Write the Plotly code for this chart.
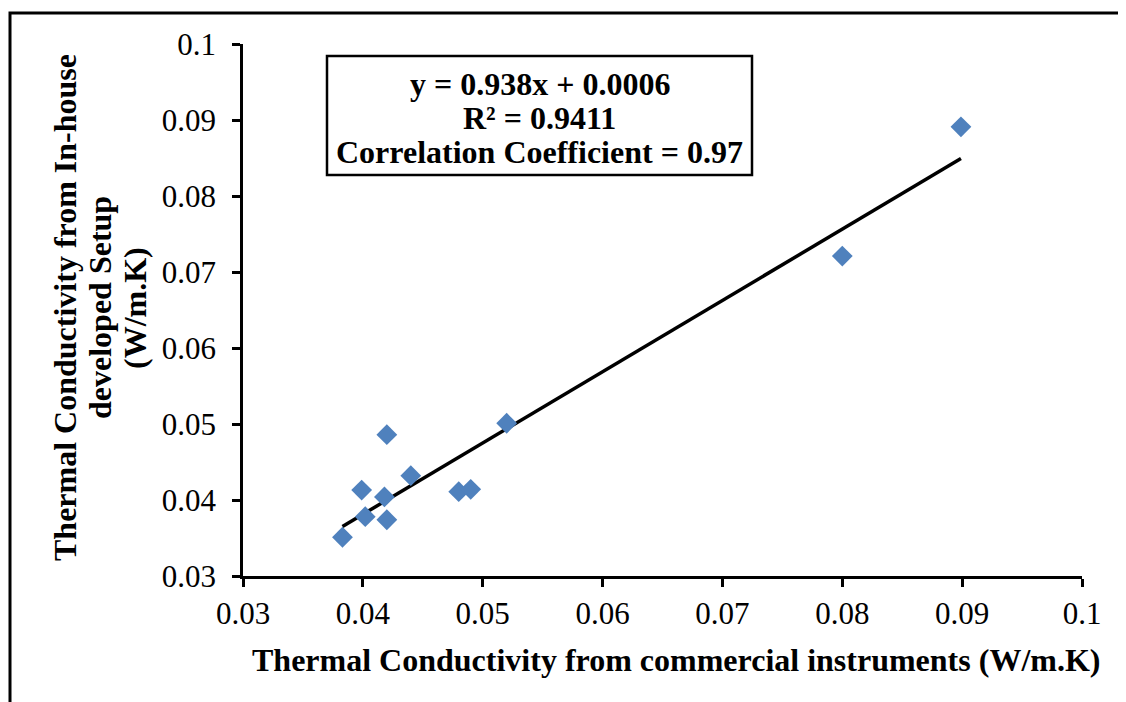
import plotly.graph_objects as go

# Data
commercial = [0.0383, 0.0399, 0.0402, 0.0418, 0.0420, 0.0420, 0.0440, 0.0480, 0.0490, 0.0520, 0.0800, 0.0899]
inhouse    = [0.0351, 0.0413, 0.0378, 0.0404, 0.0486, 0.0374, 0.0432, 0.0411, 0.0414, 0.0501, 0.0721, 0.0891]
slope = 0.938
intercept = 0.0006
eq_lines = ["y = 0.938x + 0.0006", "R² = 0.9411", "Correlation Coefficient = 0.97"]
tick_vals = [0.03, 0.04, 0.05, 0.06, 0.07, 0.08, 0.09, 0.1]
tick_text = ["0.03", "0.04", "0.05", "0.06", "0.07", "0.08", "0.09", "0.1"]
x_title = "Thermal Conductivity from commercial instruments (W/m.K)"
y_title_lines = ["Thermal Conductivity from In-house", "developed Setup", "(W/m.K)"]

# page has an 8px body margin: work in page pixels, convert to figure
OFF = 8
W, H = 1126 - OFF, 702 - OFF
PL, PR, PT, PB = 243, 1082, 44, 576          # plot area in page pixels
L, T = PL - OFF, PT - OFF
R = W - (PR - OFF)
B = H - (PB - OFF)
pw, ph = PR - PL, PB - PT

def px(xp):
    return (xp - PL) / pw

def py(yp):
    return (PB - yp) / ph

FONT = "Liberation Serif"

xmin, xmax = min(commercial), max(commercial)
trend_x = [xmin, xmax]
trend_y = [slope * v + intercept for v in trend_x]

fig = go.Figure()
fig.add_trace(go.Scatter(
    x=trend_x, y=trend_y, mode="lines",
    line=dict(color="black", width=3.5), showlegend=False, hoverinfo="skip"))
fig.add_trace(go.Scatter(
    x=commercial, y=inhouse, mode="markers",
    marker=dict(symbol="diamond", size=16, color="#4F81BD", line=dict(width=0)),
    showlegend=False))

axis_common = dict(
    range=[0.03, 0.1], tickvals=tick_vals, ticktext=tick_text,
    showgrid=False, zeroline=False, showline=True, linecolor="black", linewidth=2.5,
    ticks="outside", ticklen=8, tickwidth=2.5, tickcolor="black",
    tickfont=dict(family=FONT, size=31, color="black"),
)
fig.update_xaxes(**axis_common, ticklabelstandoff=0)
fig.update_yaxes(**axis_common, ticklabelstandoff=10)

annotations = []
annotations.append(dict(
    text="<b>" + x_title + "</b>", x=px(676), y=py(660), xref="paper", yref="paper",
    xanchor="center", yanchor="middle", showarrow=False,
    font=dict(family=FONT, size=32, color="black")))
for xpos, line in zip([65, 100, 135], y_title_lines):
    annotations.append(dict(
        text="<b>" + line + "</b>", x=px(xpos), y=py(308), xref="paper", yref="paper",
        xanchor="center", yanchor="middle", textangle=-90, showarrow=False,
        font=dict(family=FONT, size=32, color="black")))
for ypos, line in zip([84, 118, 152], eq_lines):
    annotations.append(dict(
        text="<b>" + line + "</b>", x=px(539.5), y=py(ypos), xref="paper", yref="paper",
        xanchor="center", yanchor="middle", showarrow=False,
        font=dict(family=FONT, size=32, color="black")))

shapes = [
    dict(type="rect", xref="paper", yref="paper",
         x0=px(327), x1=px(752), y0=py(175), y1=py(56),
         line=dict(color="black", width=2.5), fillcolor="rgba(0,0,0,0)", layer="above"),
    dict(type="rect", xref="paper", yref="paper",
         x0=px(10), x1=px(1160), y0=py(740), y1=py(13),
         line=dict(color="black", width=3), fillcolor="rgba(0,0,0,0)", layer="above"),
]

fig.update_layout(
    width=W, height=H,
    margin=dict(l=L, r=R, t=T, b=B, autoexpand=False),
    paper_bgcolor="white", plot_bgcolor="white",
    font=dict(family=FONT, color="black"),
    annotations=annotations, shapes=shapes,
    showlegend=False,
)

fig.write_html("out.html")
